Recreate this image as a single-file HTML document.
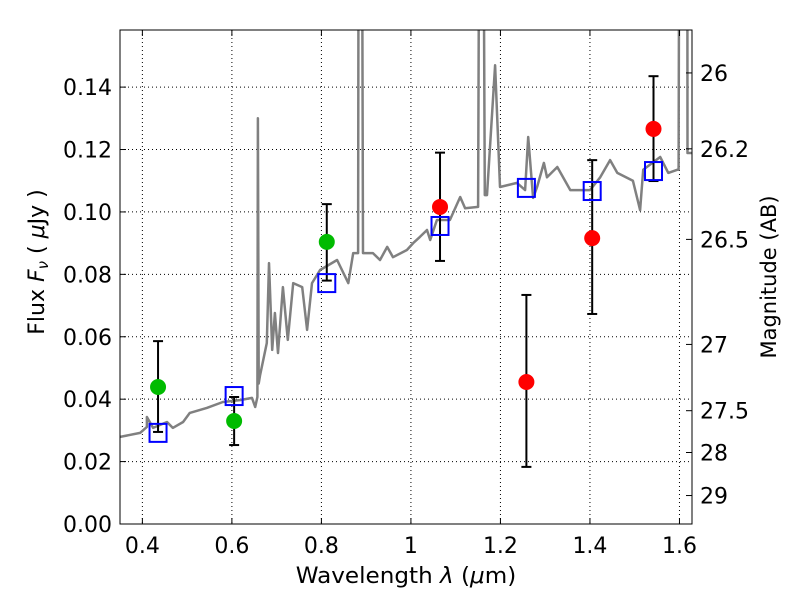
<!DOCTYPE html>
<html><head><meta charset="utf-8"><style>
body{margin:0;background:#fff;font-family:"DejaVu Sans","Liberation Sans",sans-serif}
svg text{font-family:"DejaVu Sans","Liberation Sans",sans-serif;fill:#000}
</style></head><body>
<svg id="chart" width="800" height="600" xmlns="http://www.w3.org/2000/svg">
<rect width="800" height="600" fill="#fff"/>
<defs><clipPath id="clip"><rect x="120" y="30" width="572" height="494"/></clipPath></defs>
<g id="grid"></g>
<g id="spec" clip-path="url(#clip)"></g>
<g id="marks"></g>
<rect x="120" y="30" width="572" height="494" fill="none" stroke="#000" stroke-width="1"/>
<g id="axes"></g>
<text x="406" y="583" font-size="22" text-anchor="middle" transform="translate(406,0) scale(1.05,1) translate(-406,0)">Wavelength  <tspan font-style="italic">λ</tspan> (<tspan font-style="italic">μ</tspan>m)</text>
<text transform="translate(44,262) rotate(-90)" font-size="22" text-anchor="middle">Flux  <tspan font-style="italic">F<tspan font-size="15" dy="4">ν</tspan></tspan><tspan dy="-4">  (  <tspan font-style="italic">μ</tspan>Jy )</tspan></text>
<text transform="translate(776,277) rotate(-90)" font-size="21" text-anchor="middle">Magnitude (AB)</text>
</svg>
<script>
const specWave=[0.350,0.395,0.410,0.410,0.424,0.455,0.468,0.491,0.506,0.544,0.580,0.618,0.645,0.652,0.657,0.658,0.660,0.663,0.678,0.683,0.690,0.696,0.703,0.714,0.725,0.737,0.757,0.768,0.779,0.797,0.835,0.860,0.871,0.882,0.884,0.889,0.893,0.915,0.931,0.947,0.960,0.991,1.005,1.020,1.036,1.043,1.058,1.087,1.110,1.121,1.150,1.155,1.159,1.165,1.170,1.188,1.199,1.237,1.255,1.262,1.273,1.282,1.297,1.304,1.327,1.356,1.400,1.423,1.445,1.461,1.496,1.512,1.519,1.557,1.575,1.595,1.598,1.601,1.617,1.618,1.628];
const specFlux=[0.0279,0.0292,0.0311,0.0343,0.0308,0.0327,0.0308,0.0327,0.0356,0.0372,0.0391,0.0397,0.0404,0.0375,0.0407,0.130,0.045,0.0477,0.058,0.0836,0.0558,0.0676,0.0548,0.0759,0.059,0.0772,0.0759,0.0622,0.0772,0.0814,0.0846,0.0772,0.0868,0.0868,0.3,0.3,0.0868,0.0868,0.0846,0.0888,0.0855,0.0878,0.090,0.092,0.0942,0.091,0.0974,0.0974,0.1048,0.1012,0.1016,0.3,0.3,0.1054,0.1054,0.147,0.108,0.1093,0.107,0.124,0.1045,0.108,0.1157,0.1111,0.1144,0.107,0.107,0.1111,0.1166,0.1125,0.110,0.1006,0.1135,0.1176,0.1125,0.1135,0.1135,0.3,0.3,0.1189,0.1189];
const photWave=[0.435,0.605,0.812,1.065,1.258,1.405,1.542];
const photFlux=[0.0439,0.0330,0.0904,0.1016,0.0455,0.0916,0.1266];
const photErrHi=[0.0586,0.0407,0.1025,0.119,0.0734,0.1166,0.1435];
const photErrLo=[0.0295,0.0253,0.078,0.0843,0.0183,0.0673,0.1099];
const photColor=['#00bb00','#00bb00','#00bb00','#ff0000','#ff0000','#ff0000','#ff0000'];
const modelFlux=[0.0292,0.041,0.0772,0.0955,0.1077,0.1067,0.1131];
const xTicks=[0.4,0.6,0.8,1.0,1.2,1.4,1.6];
const xTickLabels=['0.4','0.6','0.8','1','1.2','1.4','1.6'];
const yTicks=[0,0.02,0.04,0.06,0.08,0.1,0.12,0.14];
const yTickLabels=['0.00','0.02','0.04','0.06','0.08','0.10','0.12','0.14'];
const magTicks=[26,26.2,26.5,27,27.5,28,29];
const magTickLabels=['26','26.2','26.5','27','27.5','28','29'];

const X0=120,X1=692,Y0=524,Y1=30,xmin=0.35,xmax=1.628,ymin=0,ymax=0.1583;
const sx=v=>X0+(v-xmin)/(xmax-xmin)*(X1-X0);
const sy=v=>Y0-(v-ymin)/(ymax-ymin)*(Y0-Y1);
const magToFlux=m=>Math.pow(10,(23.9-m)/2.5);
const NS='http://www.w3.org/2000/svg';
function mk(tag,attrs,parent){const e=document.createElementNS(NS,tag);for(const k in attrs)e.setAttribute(k,attrs[k]);parent.appendChild(e);return e;}
const grid=document.getElementById('grid'),axes=document.getElementById('axes'),spec=document.getElementById('spec'),marks=document.getElementById('marks');
xTicks.forEach((t,i)=>{const x=sx(t);
 const g=mk('line',{x1:x,x2:x,y1:Y1,y2:Y0,stroke:'#000','stroke-width':1,'stroke-dasharray':'1,3'},grid);
 
 
 mk('line',{x1:x,x2:x,y1:Y0,y2:Y0-6,stroke:'#000'},axes);
 mk('line',{x1:x,x2:x,y1:Y1,y2:Y1+6,stroke:'#000'},axes);
 const tx=mk('text',{x:x,y:Y0+29,'font-size':22,'text-anchor':'middle'},axes);tx.textContent=xTickLabels[i];
 
 });
yTicks.forEach((t,i)=>{const y=sy(t);
 const g=mk('line',{x1:X0,x2:X1,y1:y,y2:y,stroke:'#000','stroke-width':1,'stroke-dasharray':'1,3'},grid);
 
 
 mk('line',{x1:X0,x2:X0+6,y1:y,y2:y,stroke:'#000'},axes);
 const tx=mk('text',{x:X0-8,y:y+8,'font-size':22,'text-anchor':'end'},axes);tx.textContent=yTickLabels[i];
 
 });
magTicks.forEach((m,i)=>{const y=sy(magToFlux(m));
 mk('line',{x1:X1,x2:X1-6,y1:y,y2:y,stroke:'#000'},axes);
 const tx=mk('text',{x:X1+8,y:y+8,'font-size':22,'text-anchor':'start'},axes);tx.textContent=magTickLabels[i];
 
 });
const pts=specWave.map((w,i)=>sx(w).toFixed(1)+','+sy(specFlux[i]).toFixed(1)).join(' ');
const pl=mk('polyline',{points:pts,fill:'none',stroke:'#808080','stroke-width':2.5,'stroke-linejoin':'round'},spec);


photWave.forEach((w,i)=>{const x=sx(w);
 const e=mk('line',{x1:x,x2:x,y1:sy(photErrHi[i]),y2:sy(photErrLo[i]),stroke:'#000','stroke-width':2},marks);
 
 
 [photErrHi[i],photErrLo[i]].forEach(v=>mk('line',{x1:x-5,x2:x+5,y1:sy(v),y2:sy(v),stroke:'#000','stroke-width':2},marks));
 const c=mk('circle',{cx:x,cy:sy(photFlux[i]),r:8,fill:photColor[i]},marks);
 
 
 const s=mk('rect',{x:x-8.5,y:sy(modelFlux[i])-9,width:17,height:18,fill:'none',stroke:'#0000ff','stroke-width':2},marks);
 
 });
</script>
</body></html>
